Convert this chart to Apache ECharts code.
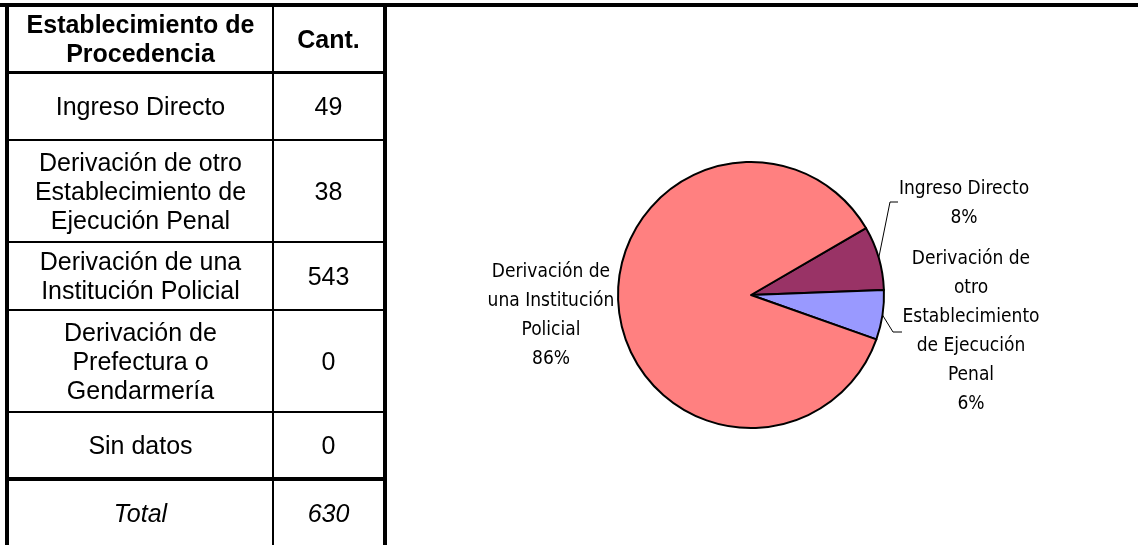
<!DOCTYPE html>
<html>
<head>
<meta charset="utf-8">
<script src="https://cdn.jsdelivr.net/npm/echarts@6/dist/echarts.min.js"></script>
<style>
html, body {
  margin: 0;
  padding: 0;
  background: #fff;
}
#wrap {
  position: relative;
  width: 1138px;
  height: 545px;
  overflow: hidden;
}
#chart {
  position: absolute;
  left: 0;
  top: 0;
  width: 1138px;
  height: 545px;
}
.ln {
  position: absolute;
  background: #000;
}
.cell {
  position: absolute;
  display: flex;
  align-items: center;
  justify-content: center;
  text-align: center;
  white-space: pre-line;
  font-family: "Liberation Sans", Arial, sans-serif;
  font-size: 25px;
  line-height: 29px;
  color: #000;
}
</style>
</head>
<body>
<div id="wrap">
  <div id="chart"></div>
  <div id="tabla"></div>
</div>
<script>
// datos
const headers = ["Establecimiento de\nProcedencia", "Cant."];
const categories = [
  "Ingreso Directo",
  "Derivación de otro\nEstablecimiento de\nEjecución Penal",
  "Derivación de una\nInstitución Policial",
  "Derivación de\nPrefectura o\nGendarmería",
  "Sin datos"
];
const pieNames = [
  "Ingreso Directo",
  "Derivación de\notro\nEstablecimiento\nde Ejecución\nPenal",
  "Derivación de\nuna Institución\nPolicial",
  "Derivación de\nPrefectura o\nGendarmería",
  "Sin datos"
];
const counts = [49, 38, 543, 0, 0];
const totalLabel = "Total";
const colors = ["#993366", "#9999FF", "#FF8080", "#FFFFCC", "#CCFFFF"];

const total = counts.reduce((a, b) => a + b, 0);

// tabla (layout)
const tabla = document.getElementById("tabla");
function line(x, y, w, h) {
  let d = document.createElement("div");
  d.className = "ln";
  d.style.cssText = `left:${x}px;top:${y}px;width:${w}px;height:${h}px`;
  tabla.appendChild(d);
}
function cell(x, y, w, h, txt, extra) {
  let d = document.createElement("div");
  d.className = "cell";
  d.style.cssText = `left:${x}px;top:${y}px;width:${w}px;height:${h}px;` + (extra || "");
  d.textContent = txt;
  tabla.appendChild(d);
}

const rowTop = [7, 74, 141, 243, 311, 413, 481];
const rowBot = [71, 139, 241, 309, 411, 477, 545];

// lineas
line(0, 3, 1138, 4);
line(5, 3, 4, 542);
line(272, 7, 2, 538);
line(383, 3, 4, 542);
line(5, 71, 382, 3);
[139, 241, 309, 411].forEach((y) => line(5, y, 378, 2));
line(5, 477, 382, 4);

const rows = [headers].concat(categories.map((c, i) => [c, String(counts[i])]));
rows.push([totalLabel, String(total)]);
rows.forEach((r, i) => {
  let style = "";
  if (i == 0) style = "font-weight:bold;";
  if (i == rows.length - 1) style = "font-style:italic;";
  cell(9, rowTop[i], 263, rowBot[i] - rowTop[i], r[0], style);
  cell(274, rowTop[i], 109, rowBot[i] - rowTop[i], r[1], style);
});

// grafico
const cx = 751, cy = 295;
// posicion de etiquetas respecto al centro (por nombre)
const labelPos = {
  "Ingreso Directo": { dx: 213, dy: -120.5, line: [[139, -93], [147, -93]] },
  "Derivación de\notro\nEstablecimiento\nde Ejecución\nPenal": { dx: 220, dy: -50.5, line: [[142, 37], [151, 37]] },
  "Derivación de\nuna Institución\nPolicial": { dx: -200, dy: -37.5, line: null }
};

let mychart = echarts.init(document.getElementById("chart"));
let pieData = [];
counts.forEach((v, i) => {
  if (v > 0) {
    pieData.push({
      name: pieNames[i],
      value: v,
      itemStyle: { color: colors[i] },
      labelLine: { show: !!labelPos[pieNames[i]].line }
    });
  }
});

mychart.setOption({
  animation: false,
  series: [
    {
      type: "pie",
      center: [cx, cy],
      radius: 133,
      startAngle: 30.2,
      clockwise: true,
      avoidLabelOverlap: false,
      percentPrecision: 0,
      itemStyle: {
        borderColor: "#000",
        borderWidth: 2
      },
      label: {
        show: true,
        position: "outside",
        formatter: "{b}\n{d}%",
        color: "#000",
        fontFamily: "'DejaVu Sans Condensed', sans-serif",
        fontSize: 19,
        lineHeight: 29,
        align: "center"
      },
      labelLine: {
        show: true,
        lineStyle: { color: "#000", width: 1 }
      },
      labelLayout: function (params) {
        let p = labelPos[pieData[params.dataIndex].name];
        let out = {
          x: cx + p.dx,
          y: cy + p.dy,
          align: "center",
          verticalAlign: "top"
        };
        if (p.line && params.labelLinePoints) {
          let start = params.labelLinePoints[0];
          out.labelLinePoints = [start].concat(p.line.map((q) => [cx + q[0], cy + q[1]]));
        }
        return out;
      },
      data: pieData
    }
  ]
});
</script>
</body>
</html>
